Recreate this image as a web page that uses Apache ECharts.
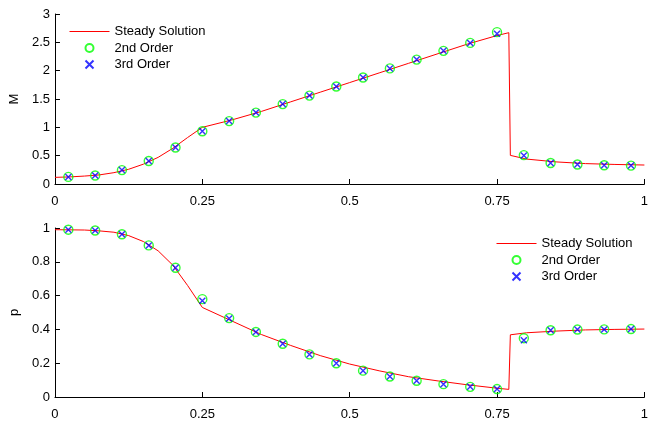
<!DOCTYPE html>
<html>
<head>
<meta charset="utf-8">
<script src="https://cdn.jsdelivr.net/npm/echarts@6/dist/echarts.min.js"></script>
<style>html,body{margin:0;padding:0;background:#fff}#c{width:651px;height:421px}</style>
</head>
<body>
<div id="c"></div>
<script>
// Marker x positions (cell centres)
const xPts = [0.0227,0.0682,0.1136,0.1591,0.2045,0.2500,0.2955,0.3409,0.3864,0.4318,0.4773,0.5227,0.5682,0.6136,0.6591,0.7045,0.7500,0.7955,0.8409,0.8864,0.9318,0.9773];
// Mach number
const M2 = [0.125,0.15,0.245,0.405,0.645,0.93,1.11,1.26,1.41,1.56,1.72,1.88,2.04,2.195,2.35,2.49,2.68,0.51,0.37,0.345,0.33,0.325];
const M3 = [0.123,0.15,0.245,0.405,0.645,0.93,1.11,1.26,1.41,1.56,1.72,1.88,2.04,2.195,2.35,2.49,2.65,0.505,0.37,0.345,0.33,0.325];
const lineX = [0,0.025,0.05,0.075,0.1,0.125,0.15,0.175,0.2,0.225,0.25,0.3,0.35,0.4,0.45,0.5,0.55,0.6,0.65,0.7,0.75,0.77,0.7726,0.8,0.85,0.9,0.95,1.0];
const Mline = [0.117,0.125,0.14,0.16,0.2,0.26,0.35,0.47,0.63,0.82,1.0,1.13,1.28,1.45,1.62,1.79,1.96,2.13,2.3,2.47,2.62,2.67,0.505,0.44,0.39,0.36,0.345,0.335];
// Pressure
const p2 = [0.99,0.985,0.963,0.897,0.765,0.579,0.467,0.385,0.315,0.252,0.2,0.156,0.121,0.096,0.076,0.06,0.047,0.348,0.395,0.399,0.4,0.402];
const p3 = [0.99,0.985,0.963,0.897,0.765,0.57,0.465,0.385,0.315,0.252,0.2,0.156,0.121,0.096,0.076,0.06,0.047,0.336,0.395,0.399,0.4,0.402];
const pline = [0.99,0.989,0.988,0.983,0.975,0.955,0.92,0.865,0.78,0.66,0.53,0.45,0.37,0.305,0.245,0.195,0.155,0.12,0.095,0.072,0.052,0.045,0.368,0.38,0.39,0.397,0.40,0.402];
const xTicks = [0,0.25,0.5,0.75,1];
const legendNames = ['Steady Solution','2nd Order','3rd Order'];

const FONT = "'Liberation Sans', Arial, sans-serif";
const zip = (xs, ys) => xs.map((x,i)=>[x,ys[i]]);
const crossPath = 'path://M0,0L10,10M10,0L0,10';

function xAxis(gi){
  return {type:'value', gridIndex:gi, min:0, max:1, interval:0.25,
    axisLine:{lineStyle:{color:'#000',width:1}},
    axisTick:{inside:true,length:5,lineStyle:{color:'#000'}},
    axisLabel:{color:'#000',fontSize:13,fontFamily:FONT,margin:11,
      formatter:v=>String(xTicks.find(t=>Math.abs(t-v)<1e-9) ?? v)},
    splitLine:{show:false}};
}
function yAxis(gi,max,interval,name,gap){
  return {type:'value', gridIndex:gi, min:0, max:max, interval:interval,
    name:name, nameLocation:'middle', nameGap:gap, nameRotate:90,
    nameTextStyle:{color:'#000',fontSize:13,fontFamily:FONT},
    axisLine:{show:true,lineStyle:{color:'#000',width:1}},
    axisTick:{show:true,inside:true,length:5,lineStyle:{color:'#000'}},
    axisLabel:{color:'#000',fontSize:13,fontFamily:FONT,margin:5,
      formatter:v=>String(+v.toFixed(2))},
    splitLine:{show:false}};
}
function series(gi, lineY, s2, s3, suffix){
  return [
    {name:legendNames[0]+suffix, type:'line', xAxisIndex:gi, yAxisIndex:gi, data:zip(lineX,lineY),
      symbol:'none', lineStyle:{color:'#ff0000',width:1}, itemStyle:{color:'#ff0000'}, z:2, animation:false},
    {name:legendNames[1]+suffix, type:'scatter', xAxisIndex:gi, yAxisIndex:gi, data:zip(xPts,s2),
      symbol:'circle', symbolSize:9, itemStyle:{color:'rgba(0,0,0,0)',borderColor:'#00ff00',borderWidth:1.4}, z:3, animation:false},
    {name:legendNames[2]+suffix, type:'scatter', xAxisIndex:gi, yAxisIndex:gi, data:zip(xPts,s3),
      symbol:crossPath, symbolSize:6, itemStyle:{color:'rgba(0,0,0,0)',borderColor:'#0000ff',borderWidth:1.4}, z:4, animation:false}
  ];
}
function legend(left,top,suffix){
  return {orient:'vertical', left:left, top:top, padding:0, itemWidth:40, itemHeight:8, itemGap:3.5,
    textStyle:{color:'#000',fontSize:13,fontFamily:FONT},
    selectedMode:false, formatter:n=>n.trim(),
    data:[
      {name:legendNames[0]+suffix, itemStyle:{opacity:0}, lineStyle:{width:1}},
      {name:legendNames[1]+suffix},
      {name:legendNames[2]+suffix}
    ]};
}

const chart = echarts.init(document.getElementById('c'), null, {renderer:'canvas'});
chart.setOption({
  animation:false,
  backgroundColor:'#fff',
  grid:[{left:54,top:14,width:595,height:170},{left:54,top:228,width:595,height:170}],
  xAxis:[xAxis(0),xAxis(1)],
  yAxis:[yAxis(0,3,0.5,'M',32),yAxis(1,1,0.2,'p',32)],
  legend:[legend(69,25,''), legend(496,237,' ')],
  series:[...series(0, Mline, M2, M3, ''), ...series(1, pline, p2, p3, ' ')]
});
</script>
</body>
</html>
